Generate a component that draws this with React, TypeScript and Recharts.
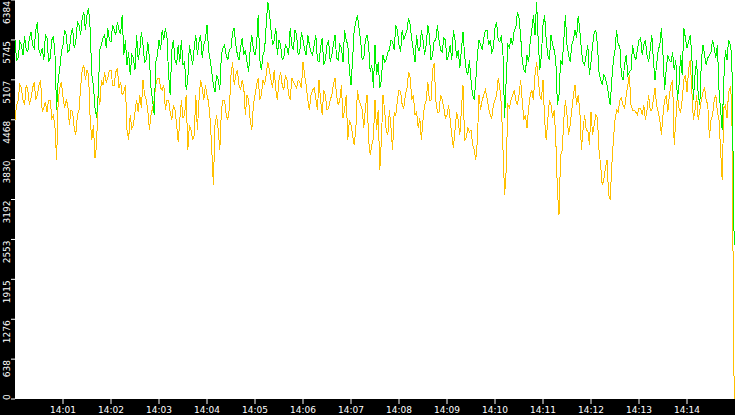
import { LineChart, Line, XAxis, YAxis, CartesianGrid } from 'recharts';

// samples every 4 s, a second reading 2 s later, last one just before the edge
const SAMPLE_SEC = 4;
const MID_OFFSET_SEC = 2;
const LAST_SAMPLE_SEC = 899;

const minuteTicks = [60, 120, 180, 240, 300, 360, 420, 480, 540, 600, 660, 720, 780, 840];
const minuteLabels = [
  '14:01', '14:02', '14:03', '14:04', '14:05', '14:06', '14:07',
  '14:08', '14:09', '14:10', '14:11', '14:12', '14:13', '14:14',
];
const yTicks = [0, 638, 1276, 1915, 2553, 3192, 3830, 4468, 5107, 5745, 6384];

const greenSamples = [
  5744, 5456, 5664, 5808, 5552, 5872, 5616, 6032, 5504, 5424,
  5776, 5456, 5808, 4624, 5296, 5664, 5824, 5584, 5936, 5712,
  5984, 6096, 5904, 6256, 5184, 4656, 4864, 5664, 5824, 5936,
  5712, 5904, 6032, 5840, 5504, 5344, 5184, 5456, 5824, 5584,
  5664, 5424, 5456, 4784, 5392, 5744, 5904, 5936, 5184, 5584,
  5424, 5664, 5744, 5392, 5104, 5504, 5616,
  5504, 5824, 5664, 5984, 5424, 5024, 5184, 4944, 5616, 5504,
  5584, 5872, 5664, 5424, 5776, 5584, 5232, 5824, 5504, 6144,
  5264, 5584, 6352, 5904, 5744, 5504, 5664, 5456, 5616, 5936,
  5584, 5824, 5552, 5744, 5504, 5664, 5504, 5824, 5392, 5776,
  5424, 5744, 5504, 5824, 5424, 5616, 5904, 5664, 5024, 5904,
  6144, 5744, 5456, 5824, 5232, 4976,
  5184, 4976, 5504, 5424, 5584, 5712, 5984, 5664, 5904, 5824,
  6096, 5744, 5392, 5584, 5904, 5504, 5984, 5424, 5744, 5984,
  5584, 5776, 5424, 5664, 5904, 5456, 5296, 5872, 5264, 5424,
  4864, 5104, 5744, 5584, 5904, 5664, 5552, 5936, 5744, 5824,
  4496, 5664, 5776, 5904, 6192, 5824, 5264, 5504, 5712, 6144,
  6352, 5264, 5984, 5744, 5424, 5664,
  5424, 4864, 5344, 6144, 5504, 5664, 5904, 6128, 5584, 5344,
  5664, 5392, 5872, 5664, 5104, 5184, 5024, 4704, 5424, 5904,
  5664, 5104, 5504, 5232, 5664, 5424, 5744, 5504, 5744, 5392,
  5824, 5104, 5584, 5936, 4944, 5504, 5392, 5264, 4784, 5504,
  5936, 5616, 5824, 4784, 5424, 4704, 5664, 5344, 5504, 5744,
  5456, 4944, 4304, 5584, 5744, 5504, 2464,
];

const greenMidSamples = [
  5424, 5712, 5504, 5584, 5776, 5664, 5904, 5584, 5616, 5824,
  5392, 5744, 5504, 5104, 5552, 5904, 5552, 5824, 5616, 6032,
  5824, 6192, 6144, 5904, 5024, 4496, 5584, 5776, 5616, 5744,
  5984, 5824, 5904, 6144, 5744, 5552, 5504, 5264, 5424, 5872,
  5392, 5712, 4976, 4544, 5504, 5584, 5744, 5776, 4864, 5744,
  5344, 5392, 5344, 4944, 5664, 5344,
  5824, 5712, 5456, 5744, 5584, 5232, 4912, 5104, 5504, 5664,
  5424, 5616, 5936, 5504, 5616, 5504, 5392, 5584, 5584, 5664,
  5424, 5504, 5984, 6192, 5664, 5936, 5744, 5424, 5664, 5504,
  5664, 5904, 5504, 5872, 5584, 5824, 5552, 5664, 5424, 5616,
  5344, 5664, 5392, 5664, 5456, 5664, 5392, 5744, 5264, 5424,
  6032, 5936, 5424, 5744, 5664, 5344,
  5664, 5392, 5104, 5392, 5552, 5744, 5584, 5904, 5552, 5744,
  5904, 5984, 5584, 5824, 5584, 5744, 5664, 5824, 5504, 5744,
  5744, 5552, 5744, 5504, 5424, 5744, 5584, 5584, 5504, 5184,
  5104, 4784, 5504, 5664, 5776, 5904, 5744, 5616, 6032, 5712,
  5504, 5104, 5616, 5664, 5936, 6096, 5424, 5232, 5392, 5904,
  5824, 5744, 5504, 6144, 5504, 5824,
  5584, 4704, 5424, 5744, 5664, 5392, 5744, 5776, 5904, 5392,
  5504, 5184, 5664, 5904, 5232, 5024, 5136, 4864, 5104, 5584,
  5664, 5184, 5344, 5184, 5264, 5504, 5584, 5776, 5664, 5504,
  5584, 5424, 5344, 5664, 5504, 5264, 5424, 5552, 5424, 5024,
  5184, 5776, 5712, 5504, 5184, 4864, 5424, 5504, 5456, 5552,
  5616, 5664, 4624, 5104, 5424, 5664,
];

const yellowSamples = [
  4464, 4784, 4976, 4704, 4944, 4816, 5072, 4864, 5104, 4656,
  4592, 4784, 4544, 3824, 4976, 4832, 4784, 4384, 4592, 4224,
  4624, 5264, 5104, 5184, 4144, 3856, 4944, 5104, 5232, 5136,
  5264, 5024, 5296, 5072, 4912, 4304, 4544, 4384, 4784, 4864,
  5104, 4784, 4304, 4656, 5024, 5136, 4944, 4624, 4784, 4464,
  4624, 4112, 4784, 4544, 3984, 4304, 4224,
  4304, 5104, 4784, 4864, 4464, 3424, 4544, 3984, 4784, 4544,
  4656, 5392, 5184, 5024, 5104, 4544, 4784, 4304, 4864, 5136,
  4864, 5024, 5392, 5104, 5264, 4784, 5232, 4944, 5104, 4784,
  5072, 4976, 5072, 5392, 5024, 4624, 4944, 4816, 5104, 4544,
  4864, 4656, 4864, 5136, 4704, 5024, 4624, 4144, 4384, 4064,
  4944, 4704, 4336, 4864, 3904, 4176,
  4304, 3664, 4864, 4304, 4624, 3984, 4544, 4944, 4704, 4864,
  5232, 4784, 4544, 4336, 4144, 4704, 5072, 4784, 5376, 4592,
  4864, 4656, 4544, 4464, 4016, 4592, 4224, 5024, 4176, 4272,
  4064, 3824, 4864, 4784, 4944, 4656, 4496, 4784, 5136, 4704,
  3264, 4704, 4784, 4944, 4704, 5104, 4464, 4336, 4864, 4784,
  5392, 4864, 5104, 4144, 4784, 4496,
  4144, 2944, 3984, 4784, 4224, 4624, 5024, 4864, 3984, 4544,
  4304, 4592, 4384, 4496, 3744, 3504, 3824, 3184, 4144, 4624,
  4784, 4704, 4864, 5184, 4624, 4592, 4656, 4544, 4464, 4864,
  4624, 4976, 4592, 4224, 4784, 4592, 5024, 4064, 4864, 4592,
  5104, 4912, 5424, 4464, 4864, 4624, 4912, 4784, 4176, 4544,
  4864, 4464, 3504, 4704, 4912, 4784, 0,
];

const yellowMidSamples = [
  4704, 5024, 4784, 5024, 4704, 4976, 4784, 5024, 4592, 4752,
  4784, 4496, 4336, 4784, 5072, 4656, 4704, 4624, 4336, 4544,
  4976, 5344, 5264, 4464, 4384, 4064, 4704, 5024, 5072, 5264,
  5024, 5232, 4976, 4864, 5024, 4144, 4336, 4592, 4592, 4656,
  4864, 4624, 4544, 4784, 5136, 4976, 5024, 4784, 4592, 4704,
  4384, 4464, 4496, 4864, 4384, 4144,
  4864, 4784, 4976, 5024, 4752, 3984, 4384, 4304, 4624, 4784,
  4464, 5184, 5024, 5264, 4944, 4976, 4864, 4464, 4704, 5024,
  4784, 5104, 5184, 5264, 4976, 4944, 5104, 5024, 5184, 4864,
  5136, 5024, 5104, 4976, 5184, 4784, 4864, 4976, 4624, 4784,
  4944, 4624, 4784, 5024, 4864, 4784, 4496, 4864, 4464, 4224,
  4304, 4784, 4624, 4656, 4144, 4064,
  4784, 4624, 4144, 4624, 4224, 4336, 4592, 4784, 4912, 4656,
  4976, 5136, 4864, 4592, 4496, 4464, 4784, 4784, 5264, 4784,
  4592, 4784, 4496, 4704, 4224, 4304, 4464, 4624, 4144, 4336,
  4304, 3984, 4144, 4624, 4864, 4816, 4544, 4704, 4864, 4976,
  3984, 3664, 4656, 4864, 4784, 4864, 4784, 4544, 4656, 4944,
  5184, 5136, 4784, 4464, 4464, 4704,
  4624, 3344, 3904, 4464, 4544, 4384, 4864, 4704, 4624, 4304,
  4304, 4064, 4224, 4544, 3984, 3424, 3696, 3264, 3744, 4464,
  4592, 4816, 4656, 5024, 4704, 4624, 4544, 4656, 4704, 4624,
  4624, 4784, 4704, 4464, 4544, 4864, 4864, 5104, 4464, 4656,
  4784, 5184, 5264, 4944, 4624, 4464, 4784, 4976, 4704, 4464,
  4784, 4592, 3984, 4656, 4496, 4976,
];

type Row = { t: number; green: number; yellow: number };

const data: Row[] = [];
greenSamples.forEach((g, i) => {
  const last = i === greenSamples.length - 1;
  data.push({ t: last ? LAST_SAMPLE_SEC : i * SAMPLE_SEC, green: g, yellow: yellowSamples[i] });
  if (i < greenMidSamples.length) {
    data.push({
      t: i * SAMPLE_SEC + MID_OFFSET_SEC,
      green: greenMidSamples[i],
      yellow: yellowMidSamples[i],
    });
  }
});

const FONT = 'DejaVu Sans';

function YTick({ y, payload }: any) {
  const ty = y + 1;
  return (
    <text
      x={10}
      y={ty}
      transform={`rotate(-90, 10, ${ty})`}
      textAnchor={payload.value === 0 ? 'start' : 'end'}
      fill="#fff"
      fontSize={9}
      fontFamily={FONT}
    >
      {payload.value}
    </text>
  );
}

function XTick({ x, payload }: any) {
  const label = minuteLabels[minuteTicks.indexOf(payload.value)];
  return (
    <text x={x} y={413} textAnchor="middle" fill="#fff" fontSize={9} fontFamily={FONT}>
      {label}
    </text>
  );
}

export default function App() {
  return (
    <div style={{ position: 'fixed', left: 0, top: 0, width: 735, height: 415, background: '#000' }}>
      <style>{'.recharts-line-curve{shape-rendering:crispEdges}'}</style>
      <LineChart width={735} height={415} data={data} margin={{ top: 0, right: 0, bottom: 0, left: 0 }}>
        <CartesianGrid horizontal={false} vertical={false} fill="#fff" stroke="none" />
        <XAxis
          dataKey="t"
          type="number"
          domain={[0, 900]}
          ticks={minuteTicks}
          interval={0}
          height={16}
          axisLine={false}
          tickSize={5}
          tickLine={{ stroke: '#fff' }}
          tick={<XTick />}
        />
        <YAxis
          type="number"
          domain={[0, 6384]}
          ticks={yTicks}
          interval={0}
          width={15}
          axisLine={false}
          tickSize={4}
          tickLine={{ stroke: '#fff' }}
          tick={<YTick />}
        />
        <Line
          type="linear"
          dataKey="yellow"
          stroke="#ffc000"
          strokeWidth={1}
          dot={false}
          isAnimationActive={false}
        />
        <Line
          type="linear"
          dataKey="green"
          stroke="#00f000"
          strokeWidth={1}
          dot={false}
          isAnimationActive={false}
        />
      </LineChart>
    </div>
  );
}
